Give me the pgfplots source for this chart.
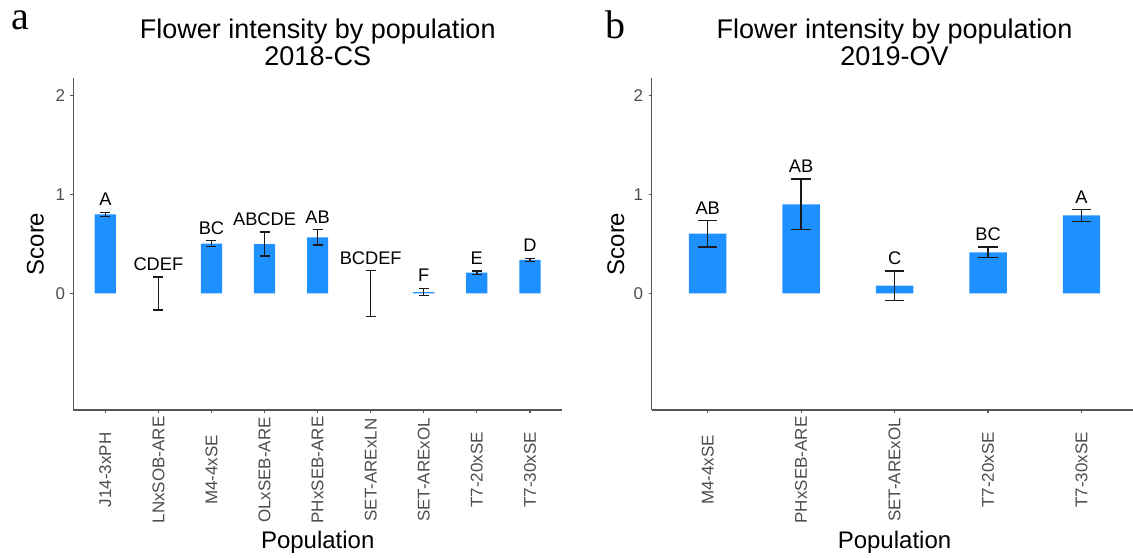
\documentclass[border=0pt]{standalone}
\usepackage{fontspec}
\setmainfont{Liberation Sans}
\newfontfamily\serifpanel{Liberation Serif}
\usepackage{pgfplots}
\usepackage{pgfplotstable}
\pgfplotsset{compat=1.18}
\definecolor{barblue}{HTML}{1E90FF}
\definecolor{tickgray}{HTML}{4D4D4D}
\definecolor{axgray}{HTML}{555555}
\definecolor{errc}{HTML}{1A1A1A}

\pgfplotstableread{
x mean err top lab
1 0.800 0.022 0.822 A
2 0.000 0.165 0.165 CDEF
3 0.505 0.030 0.535 BC
4 0.500 0.120 0.620 ABCDE
5 0.567 0.077 0.644 AB
6 0.000 0.230 0.230 BCDEF
7 0.014 0.037 0.051 F
8 0.210 0.017 0.227 E
9 0.340 0.017 0.357 D
}\dataA

\pgfplotstableread{
x mean err top lab
1 0.605 0.133 0.738 AB
2 0.901 0.257 1.158 AB
3 0.080 0.148 0.228 C
4 0.416 0.054 0.470 BC
5 0.789 0.060 0.849 A
}\dataB

\pgfplotsset{panel/.style={
  scale only axis, anchor=south west, height=132.8pt,
  axis lines=left, axis line style={-, draw=axgray, line width=0.6pt},
  ymin=-1.178, ymax=2.179, ytick={0,1,2},
  xmin=0.4,
  tick align=outside, major tick length=1.2pt,
  tick style={draw=axgray, line width=0.5pt},
  /pgf/number format/assume math mode=true,
  ticklabel style={font=\fontsize{6.8}{8}\selectfont, text=tickgray},
  yticklabel style={anchor=east, inner sep=0pt, xshift=-2pt},
  xticklabel style={anchor=center, inner sep=0pt, yshift=-22.8pt, rotate=90},
  clip=false, unbounded coords=discard,
},
barsty/.style={ybar, bar width=0.4, bar shift=0pt, fill=barblue, draw=none,
  y filter/.expression={y==0 ? nan : y}},
errsty/.style={draw=none, mark=none, forget plot,
  error bars/.cd, y dir=both, y explicit,
  error bar style={draw=errc, line width=0.55pt},
  error mark options={rotate=90, mark size=#1, draw=errc, line width=0.55pt}},
labsty/.style={draw=none, mark=none, nodes near coords, point meta=explicit symbolic,
  every node near coord/.append style={anchor=base, yshift=2.6pt, inner sep=0pt,
  font=\fontsize{7.3}{8}\selectfont, text=black}}
}

\begin{document}
\begin{tikzpicture}
\useasboundingbox (0,0) rectangle (453.2pt,222.8pt);
\begin{axis}[panel, at={(29.4pt,58.8pt)}, width=195.3pt, xmax=9.6,
  xtick={1,...,9},
  xticklabels={J14-3xPH,LNxSOB-ARE,M4-4xSE,OLxSEB-ARE,PHxSEB-ARE,SET-ARExLN,SET-ARExOL,T7-20xSE,T7-30xSE}]
\addplot[barsty] table[x=x, y=mean] {\dataA};
\addplot[errsty=2pt] table[x=x, y=mean, y error=err] {\dataA};
\addplot[labsty] table[x=x, y=top, meta=lab] {\dataA};
\end{axis}
\begin{axis}[panel, at={(260.64pt,58.8pt)}, width=194.4pt, xmax=5.6,
  xtick={1,...,5},
  xticklabels={M4-4xSE,PHxSEB-ARE,SET-ARExOL,T7-20xSE,T7-30xSE}]
\addplot[barsty] table[x=x, y=mean] {\dataB};
\addplot[errsty=3.9pt] table[x=x, y=mean, y error=err] {\dataB};
\addplot[labsty] table[x=x, y=top, meta=lab] {\dataB};
\end{axis}
\node[anchor=base west, inner sep=0pt, font=\serifpanel\fontsize{16}{18}\selectfont] at (4.2pt,211.1pt) {a};
\node[anchor=base west, inner sep=0pt, font=\serifpanel\fontsize{16}{18}\selectfont] at (242pt,207.5pt) {b};
\begin{scope}[every node/.style={inner sep=0pt, font=\fontsize{10.8}{12}\selectfont}]
\node[anchor=base] at (127.1pt,207.4pt) {Flower intensity by population};
\node[anchor=base] at (127.1pt,196.6pt) {2018-CS};
\node[anchor=base] at (357.8pt,207.4pt) {Flower intensity by population};
\node[anchor=base] at (357.8pt,196.6pt) {2019-OV};
\end{scope}
\begin{scope}[every node/.style={inner sep=0pt, font=\fontsize{9.6}{11}\selectfont}]
\node[anchor=base] at (127.1pt,3.5pt) {Population};
\node[anchor=base] at (357.8pt,3.5pt) {Population};
\node[rotate=90] at (14.1pt,125.2pt) {Score};
\node[rotate=90] at (246.3pt,125.2pt) {Score};
\end{scope}
\end{tikzpicture}
\end{document}
